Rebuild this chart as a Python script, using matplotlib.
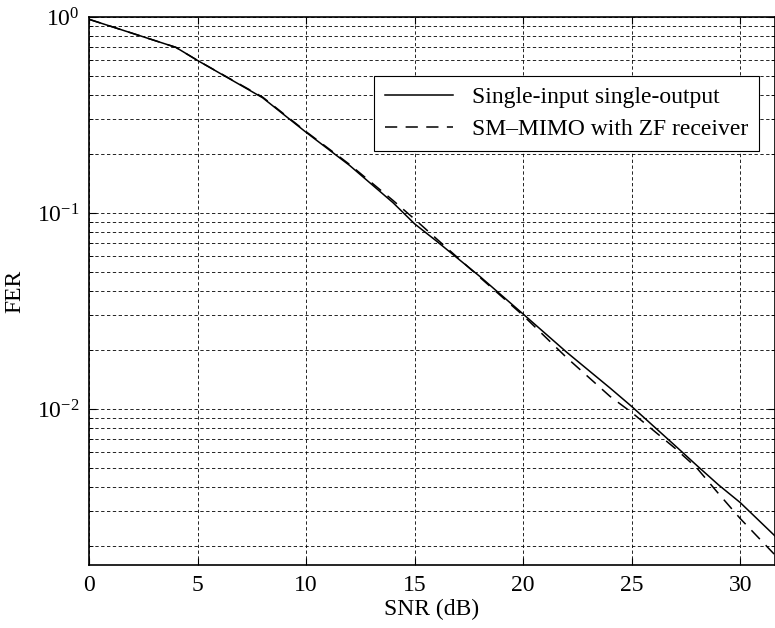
import matplotlib.pyplot as plt
from matplotlib.ticker import LogLocator, NullFormatter

snr_db = [0, 4, 5, 8, 10, 12, 14, 15, 16, 18, 20, 22, 24, 25, 27, 28, 29, 30, 31.6]
fer_siso = [0.973, 0.70, 0.60, 0.387, 0.258, 0.175, 0.113, 0.088, 0.072, 0.0475, 0.0305,
            0.0195, 0.0128, 0.0103, 0.0065, 0.00515, 0.0041, 0.00333, 0.00225]
fer_zf = [0.973, 0.70, 0.60, 0.39, 0.26, 0.177, 0.116, 0.093, 0.074, 0.047, 0.030,
          0.0183, 0.0116, 0.0096, 0.0063, 0.0050, 0.0037, 0.00276, 0.0018]

plt.rcParams['font.family'] = ['Liberation Serif', 'DejaVu Serif']
plt.rcParams['mathtext.fontset'] = 'stix'

fig = plt.figure(figsize=(7.75, 6.28), dpi=100)
ax = fig.add_axes([0.1148, 0.1003, 0.8852, 0.8727])

ax.semilogy(snr_db, fer_siso, color='k', linewidth=1.1, label='Single-input single-output')
ax.semilogy(snr_db, fer_zf, color='k', linewidth=1.1, linestyle=(0, (8, 5.5)),
            label='SM\u2013MIMO with ZF receiver')

ax.set_xlim(0, 31.6)
ax.set_ylim(1.6e-3, 1)
ax.set_xticks([0, 5, 10, 15, 20, 25, 30])
ax.yaxis.set_major_locator(LogLocator(base=10, numticks=10))
ax.yaxis.set_minor_locator(LogLocator(base=10, subs=range(2, 10), numticks=10))
ax.yaxis.set_minor_formatter(NullFormatter())

ax.grid(True, which='major', axis='both', color='k', linestyle=(0, (4, 3)), linewidth=0.6)
ax.grid(True, which='minor', axis='y', color='k', linestyle=(0, (4, 3)), linewidth=0.6)

ax.tick_params(which='both', direction='in', labelsize=17, top=True, right=True)
ax.tick_params(which='major', length=5, pad=7)
ax.tick_params(which='minor', length=3)
for s in ax.spines.values():
    s.set_linewidth(1.2)

ax.set_xlabel('SNR (dB)', fontsize=17, labelpad=2)
ax.set_ylabel('FER', fontsize=17, labelpad=8)

leg = ax.legend(loc='upper right', bbox_to_anchor=(0.977, 0.892), borderaxespad=0,
                fontsize=17, frameon=True, fancybox=False, edgecolor='k', framealpha=1,
                handlelength=2.9, borderpad=0.45, labelspacing=0.45)
leg.get_frame().set_linewidth(0.8)

fig.savefig('out.png', dpi=100)
